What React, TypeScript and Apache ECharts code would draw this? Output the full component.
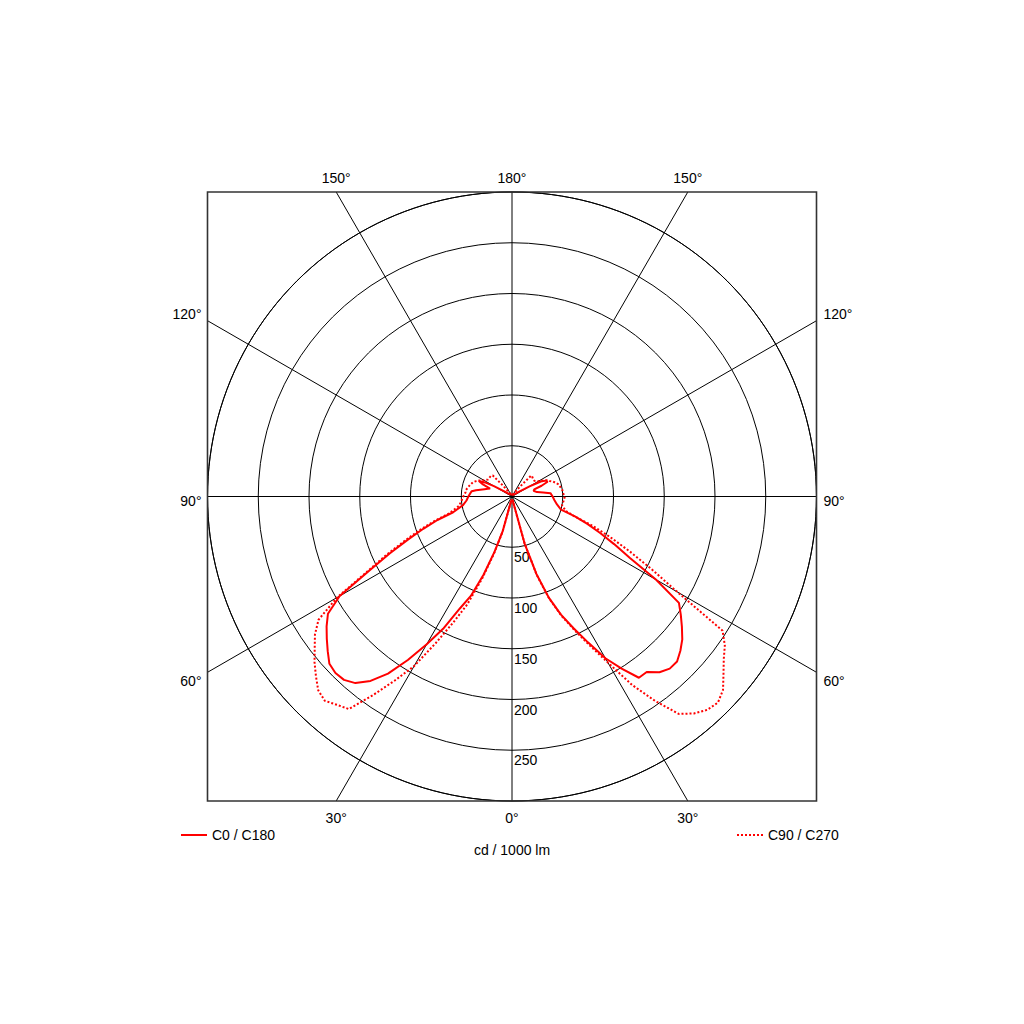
import React, { useEffect, useRef } from "react";
import * as echarts from "echarts";

// Gamma angles (degrees from nadir) at which intensities are read
const gammaDeg = [
  0, 5, 10, 12.5, 15, 17.5, 20, 22.5, 25, 27.5, 30, 32.5, 35, 37.5, 40, 42.5,
  45, 47.5, 50, 52.5, 55, 57.5, 60, 62.5, 65, 67.5, 70, 72.5, 75, 80, 85, 90,
  95, 97.5, 100, 105, 107.5, 110, 112.5, 115, 117.5, 120, 125, 130, 135, 137.5,
  140, 145, 150, 160, 170, 180,
];

// C0 half-plane (right side), cd / 1000 lm
const c0Right = [
  3, 3, 4, 7, 48, 80, 106, 126, 143, 162, 184, 201, 218, 218, 226, 230,
  230, 225, 219, 211, 203, 195, 164, 131, 111, 94, 79, 65, 50, 45, 42, 40,
  38, 31, 25, 22, 23, 31, 38, 37, 32, 20, 8, 4, 3, 3,
  3, 2, 2, 2, 2, 2,
];

// C180 half-plane (left side)
const c180Left = [
  3, 3, 4, 6, 35, 57, 82, 106, 122, 147, 168, 191, 213, 229, 240, 245,
  246, 244, 237, 230, 223, 215, 196, 159, 133, 111, 93, 77, 60, 49, 45, 43,
  41, 40, 36, 28, 25, 23, 31, 36, 30, 20, 8, 4, 3, 3,
  3, 2, 2, 2, 2, 2,
];

// C90 half-plane (right side)
const c90Right = [
  3, 3, 4, 7, 48, 81, 107, 127, 145, 165, 189, 220, 246, 270, 279, 285,
  287, 282, 272, 263, 256, 246, 188, 155, 128, 105, 85, 64, 55, 50, 51, 52,
  50, 50, 49, 47, 45, 43, 40, 38, 34, 30, 27, 27, 28, 28,
  15, 6, 3, 2, 2, 2,
];

// C270 half-plane (left side)
const c270Left = [
  3, 3, 4, 6, 36, 59, 86, 115, 137, 163, 193, 215, 239, 264, 268, 273,
  270, 262, 254, 245, 237, 226, 199, 162, 137, 115, 97, 80, 64, 53, 50, 48,
  46, 46, 45, 43, 42, 41, 39, 37, 34, 32, 29, 29, 29, 28,
  15, 6, 3, 2, 2, 2,
];

const seriesNames = ["C0 / C180", "C90 / C270"];
const radiusMax = 300;
const radiusStep = 50;
const spokeAngles = [0, 30, 60, 90, 120, 150];
const topAngles = [150, 180, 150];
const sideAngles = [120, 90, 60];
const bottomAngles = [30, 0, 30];
const unitTitle = "cd / 1000 lm";

const FONT = "'Liberation Sans', Arial, Helvetica, sans-serif";
const RED = "#ff0000";
const SOLID_ICON = "path://M0,0h26v2h-26z";
const DOTTED_ICON =
  "path://M0,0h2v2h-2zM4,0h2v2h-2zM8,0h2v2h-2zM12,0h2v2h-2zM16,0h2v2h-2zM20,0h2v2h-2zM24,0h2v2h-2z";

function buildData(right: number[], left: number[]) {
  const pts: number[][] = [];
  for (let i = 0; i < gammaDeg.length; i++) pts.push([right[i], gammaDeg[i]]);
  for (let i = gammaDeg.length - 1; i >= 0; i--)
    pts.push([left[i], 360 - gammaDeg[i]]);
  return pts;
}

export default function App() {
  const ref = useRef<HTMLDivElement>(null);

  useEffect(() => {
    document.body.style.margin = "0";
    const chart = echarts.init(ref.current!, null, { renderer: "svg" });

    const cx = 512;
    const cy = 496.5;
    const half = 304.5;
    const rad = Math.PI / 180;

    const graphics: any[] = [];
    // spokes through the center, extended to the frame
    spokeAngles.forEach((g) => {
      const sx = Math.sin(g * rad);
      const sy = Math.cos(g * rad);
      const t = half / Math.max(Math.abs(sx), Math.abs(sy));
      graphics.push({
        type: "line",
        z: 0,
        silent: true,
        shape: {
          x1: cx - t * sx,
          y1: cy - t * sy,
          x2: cx + t * sx,
          y2: cy + t * sy,
        },
        style: { stroke: "#000", lineWidth: 1 },
      });
    });
    // frame
    graphics.push({
      type: "rect",
      z: 1,
      silent: true,
      shape: { x: cx - half, y: cy - half, width: 2 * half, height: 2 * half },
      style: { fill: "none", stroke: "#333", lineWidth: 1.6 },
    });

    const textStyle = (text: string, align: string) => ({
      text,
      fontSize: 14,
      fontFamily: FONT,
      fill: "#000",
      align,
      verticalAlign: "middle",
    });

    // top labels
    topAngles.forEach((g, i) => {
      const dir = i - 1;
      const x = cx + dir * half * Math.tan((180 - g) * rad);
      graphics.push({
        type: "text",
        x,
        y: cy - half - 14.5,
        style: textStyle(g + "°", "center"),
      });
    });
    // bottom labels
    bottomAngles.forEach((g, i) => {
      const dir = i - 1;
      const x = cx + dir * half * Math.tan(g * rad);
      graphics.push({
        type: "text",
        x,
        y: cy + half + 17,
        style: textStyle(g + "°", "center"),
      });
    });
    // side labels
    sideAngles.forEach((g) => {
      const hitY = cy + (half * Math.cos(g * rad)) / Math.sin(g * rad);
      const off = g === 90 ? 4 : g > 90 ? -7 : 9;
      graphics.push({
        type: "text",
        x: cx - half - 6,
        y: hitY + off,
        style: textStyle(g + "°", "right"),
      });
      graphics.push({
        type: "text",
        x: cx + half + 7,
        y: hitY + off,
        style: textStyle(g + "°", "left"),
      });
    });

    const legendBase = {
      itemWidth: 26,
      itemHeight: 2,
      selectedMode: false,
      top: 823,
      textStyle: { fontSize: 14, color: "#000", fontFamily: FONT },
    };

    const option: any = {
      animation: false,
      backgroundColor: "#fff",
      title: {
        text: unitTitle,
        left: "center",
        top: 838,
        textStyle: {
          fontSize: 14,
          fontWeight: "normal",
          color: "#000",
          fontFamily: FONT,
        },
      },
      legend: [
        {
          ...legendBase,
          data: [{ name: seriesNames[0], icon: SOLID_ICON }],
          left: 176,
        },
        {
          ...legendBase,
          data: [{ name: seriesNames[1], icon: DOTTED_ICON }],
          left: 732,
        },
      ],
      polar: { center: [cx, cy], radius: half },
      angleAxis: {
        type: "value",
        min: 0,
        max: 360,
        interval: 30,
        startAngle: 270,
        clockwise: false,
        axisLine: { show: true, lineStyle: { color: "#000", width: 1 } },
        axisTick: { show: false },
        axisLabel: { show: false },
        splitLine: { show: false },
      },
      radiusAxis: {
        type: "value",
        min: 0,
        max: radiusMax,
        interval: radiusStep,
        axisLine: { show: false },
        axisTick: { show: false },
        splitLine: { show: true, lineStyle: { color: "#000", width: 1 } },
        axisLabel: {
          show: true,
          fontSize: 14,
          color: "#000",
          fontFamily: FONT,
          margin: 2,
          align: "left",
          verticalAlign: "top",
          padding: [3, 0, 0, 0],
          formatter: (v: number) =>
            v === 0 || v === radiusMax ? "" : String(v),
        },
      },
      graphic: graphics,
      series: [
        {
          name: seriesNames[0],
          type: "line",
          coordinateSystem: "polar",
          symbol: "none",
          z: 3,
          lineStyle: { color: RED, width: 2 },
          itemStyle: { color: RED },
          data: buildData(c0Right, c180Left),
        },
        {
          name: seriesNames[1],
          type: "line",
          coordinateSystem: "polar",
          symbol: "none",
          z: 4,
          lineStyle: { color: RED, width: 2, type: [2, 2] },
          itemStyle: { color: RED },
          data: buildData(c90Right, c270Left),
        },
      ],
    };

    chart.setOption(option);
    return () => chart.dispose();
  }, []);

  return (
    <div
      ref={ref}
      style={{ width: 1024, height: 1024, position: "absolute", left: 0, top: 0 }}
    />
  );
}
